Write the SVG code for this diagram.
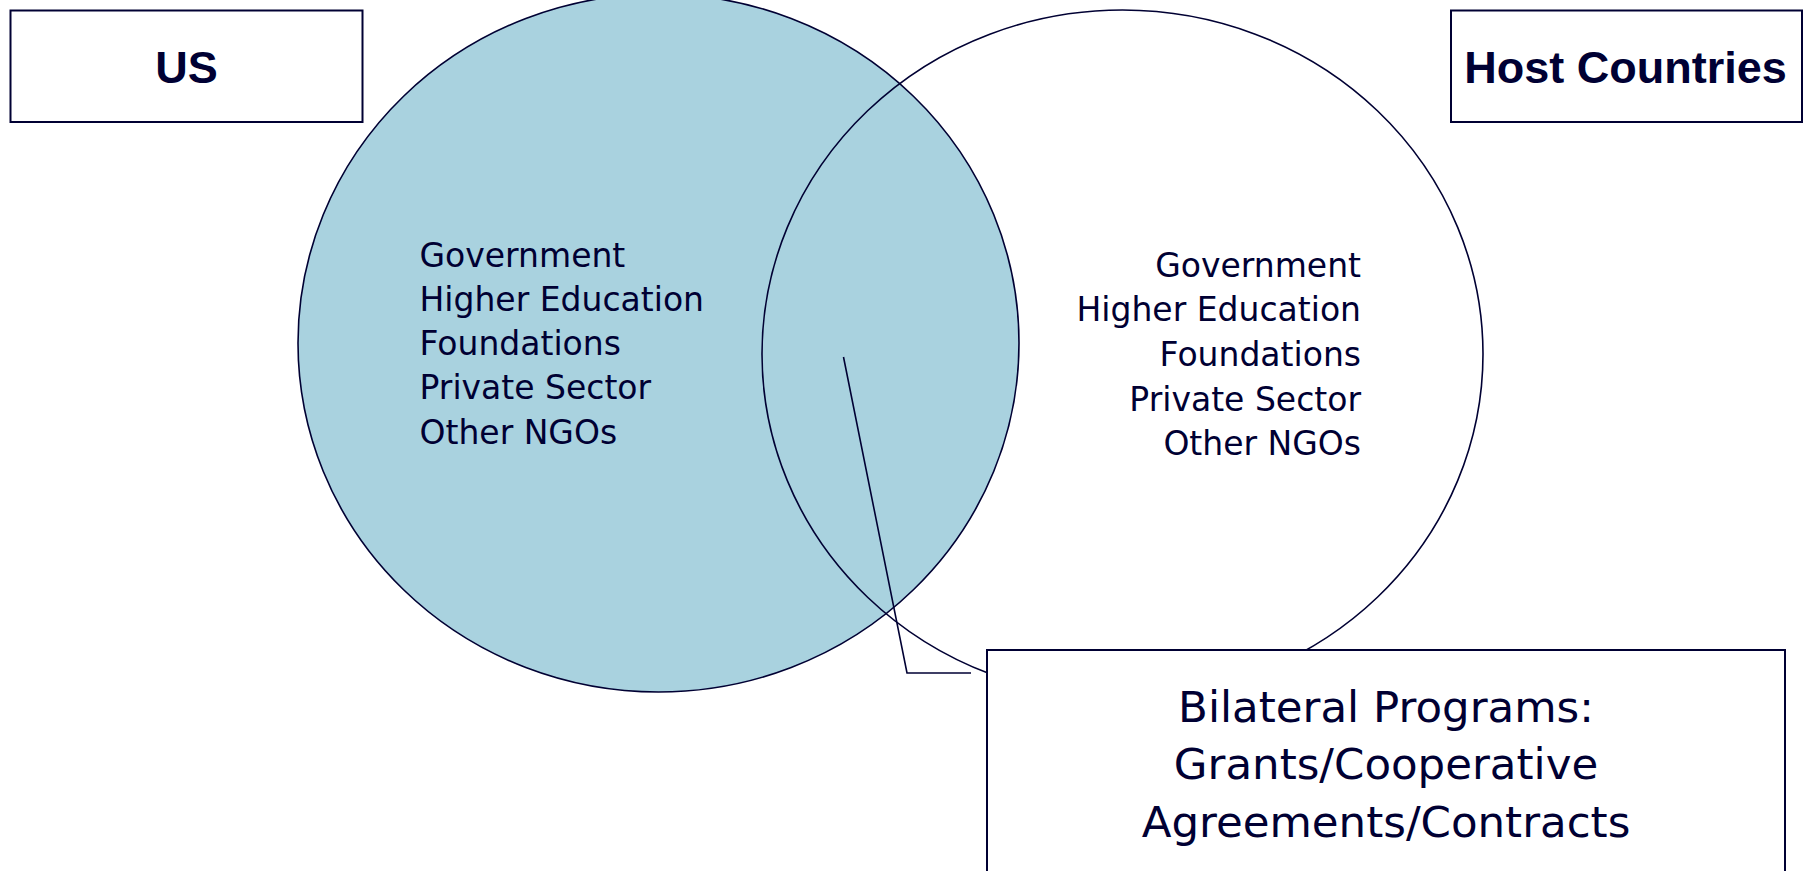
<svg xmlns="http://www.w3.org/2000/svg" width="1805" height="871" viewBox="0 0 1805 871">
<style>
.bg{fill:#ffffff}
.box{fill:#ffffff;stroke:#000033;stroke-width:2}
.ring{stroke:#000033;stroke-width:1.6}
.list{font-family:"DejaVu Sans",Verdana,sans-serif;font-size:33px;fill:#000033}
.title{font-family:"Liberation Sans",Arial,sans-serif;font-weight:bold;font-size:45px;fill:#000033}
.big{font-family:"DejaVu Sans",Verdana,sans-serif;font-size:43.5px;fill:#000033}
.conn{fill:none;stroke:#000033;stroke-width:1.6}
</style>
<rect class="bg" x="0" y="0" width="1805" height="871"/>
<g id="us-circle">
<ellipse class="ring" cx="658.5" cy="343" rx="360.5" ry="349" fill="#A9D2DF"/>
<text class="list" x="419.5"><tspan x="419.5" y="266.5">Government</tspan><tspan x="419.5" y="310.7">Higher Education</tspan><tspan x="419.5" y="355">Foundations</tspan><tspan x="419.5" y="399.3">Private Sector</tspan><tspan x="419.5" y="443.5">Other NGOs</tspan></text>
</g>
<g id="host-circle">
<ellipse class="ring" cx="1122.5" cy="354" rx="360.5" ry="344" fill="none"/>
<text class="list" text-anchor="end"><tspan x="1361" y="276.7">Government</tspan><tspan x="1361" y="321.3">Higher Education</tspan><tspan x="1361" y="366">Foundations</tspan><tspan x="1361" y="410.5">Private Sector</tspan><tspan x="1361" y="455">Other NGOs</tspan></text>
</g>
<g id="connectors">
<polyline class="conn" points="843.5,357 907,673 971,673"/>
</g>
<g id="us-label">
<rect class="box" x="10.5" y="10.5" width="352" height="111.5"/>
<text class="title" x="186.5" y="83" text-anchor="middle">US</text>
</g>
<g id="host-label">
<rect class="box" x="1451" y="10.5" width="351" height="111.5"/>
<text class="title" x="1625.5" y="83" text-anchor="middle">Host Countries</text>
</g>
<g id="bilateral-box">
<rect class="box" x="987" y="650" width="798" height="240"/>
<text class="big" text-anchor="middle"><tspan x="1386" y="722">Bilateral Programs:</tspan><tspan x="1386" y="779">Grants/Cooperative</tspan><tspan x="1386" y="836.5">Agreements/Contracts</tspan></text>
</g>
</svg>
